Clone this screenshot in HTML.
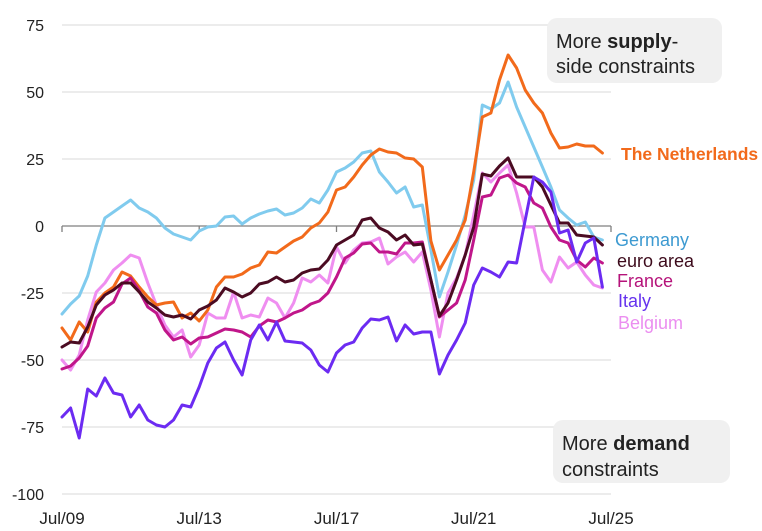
<!DOCTYPE html>
<html>
<head>
<meta charset="utf-8">
<style>
  html, body { margin: 0; padding: 0; background: #ffffff; }
  svg { display: block; }
  text { font-family: "Liberation Sans", "DejaVu Sans", sans-serif; }
</style>
</head>
<body>
<svg width="762" height="531" viewBox="0 0 762 531" xmlns="http://www.w3.org/2000/svg">
  <rect x="0" y="0" width="762" height="531" fill="#ffffff"/>

  <!-- gridlines -->
  <g stroke="#d9d9d9" stroke-width="1">
    <line x1="62" y1="25" x2="611" y2="25"/>
    <line x1="62" y1="92" x2="611" y2="92"/>
    <line x1="62" y1="159" x2="611" y2="159"/>
    <line x1="62" y1="293" x2="611" y2="293"/>
    <line x1="62" y1="360" x2="611" y2="360"/>
    <line x1="62" y1="427" x2="611" y2="427"/>
    <line x1="62" y1="494" x2="611" y2="494"/>
  </g>
  <!-- zero axis with ticks -->
  <g stroke="#7f7f7f" stroke-width="1.3">
    <line x1="62" y1="226" x2="611" y2="226"/>
    <line x1="62" y1="226" x2="62" y2="232"/>
    <line x1="199.2" y1="226" x2="199.2" y2="232"/>
    <line x1="336.5" y1="226" x2="336.5" y2="232"/>
    <line x1="473.7" y1="226" x2="473.7" y2="232"/>
    <line x1="611" y1="226" x2="611" y2="232"/>
  </g>

  <!-- y-axis labels -->
  <g font-size="16" fill="#222222" text-anchor="end">
    <text x="44" y="31">75</text>
    <text x="44" y="98">50</text>
    <text x="44" y="165">25</text>
    <text x="44" y="232">0</text>
    <text x="44" y="299">-25</text>
    <text x="44" y="366">-50</text>
    <text x="44" y="433">-75</text>
    <text x="44" y="500">-100</text>
  </g>
  <!-- x-axis labels -->
  <g font-size="17" fill="#222222" text-anchor="middle">
    <text x="62" y="524">Jul/09</text>
    <text x="199.2" y="524">Jul/13</text>
    <text x="336.5" y="524">Jul/17</text>
    <text x="473.7" y="524">Jul/21</text>
    <text x="611" y="524">Jul/25</text>
  </g>

  <!-- callouts -->
  <rect x="547" y="18" width="175" height="65" rx="10" ry="10" fill="#f0f0f0"/>
  <text x="556" y="48" font-size="20" fill="#222222">More <tspan font-weight="bold">supply</tspan>-</text>
  <text x="556" y="73" font-size="20" fill="#222222">side constraints</text>

  <rect x="553" y="420" width="177" height="63" rx="10" ry="10" fill="#f0f0f0"/>
  <text x="562" y="450" font-size="20" fill="#222222">More <tspan font-weight="bold">demand</tspan></text>
  <text x="562" y="476" font-size="20" fill="#222222">constraints</text>

  <!-- series -->
  <g fill="none" stroke-width="3" stroke-linejoin="round" stroke-linecap="round">
    <!-- Belgium -->
    <polyline stroke="#ef8ef0" points="62,360 70.6,370 79.2,355 87.7,320 96.3,292 104.9,283 113.5,270 122,263 130.6,255 139.2,258 147.8,283 156.4,305 164.9,325 173.5,337 182.1,330 190.7,357 199.2,345 207.8,313 216.4,318 225,318 233.6,292 242.1,318 250.7,315 259.3,317 267.9,298 276.5,303 285,318 293.6,303 302.2,278 310.8,282 319.3,275 327.9,283 336.5,247 345.1,263 353.7,250 362.2,243 370.8,242 379.4,238 388,264 396.5,257 405.1,252 413.7,262 422.3,252 430.9,290 439.4,337 448,293 456.6,278 465.2,255 473.7,215 482.3,173 490.9,182 499.5,173 508.1,165 516.6,193 525.2,227 533.8,227 542.4,270 550.9,282 559.5,257 568.1,268 576.7,262 585.3,275 593.8,285 602.4,288"/>
    <!-- Germany -->
    <polyline stroke="#80cbee" points="62,314 70.6,304 79.2,296 87.7,276 96.3,245 104.9,218 113.5,212 122,206 130.6,200 139.2,208 147.8,212 156.4,218 164.9,228 173.5,234 182.1,237 190.7,240 199.2,231 207.8,227 216.4,226 225,217 233.6,216 242.1,224 250.7,218 259.3,214 267.9,211 276.5,209 285,215 293.6,213 302.2,208 310.8,199 319.3,203 327.9,190 336.5,172 345.1,168 353.7,162 362.2,153 370.8,151 379.4,172 388,182 396.5,193 405.1,187 413.7,207 422.3,205 430.9,250 439.4,297 448,272 456.6,245 465.2,215 473.7,180 482.3,105 490.9,109 499.5,103 508.1,82 516.6,107 525.2,127 533.8,147 542.4,167 550.9,187 559.5,210 568.1,218 576.7,225 585.3,222 593.8,237 602.4,240"/>
    <!-- Netherlands -->
    <polyline stroke="#f26a1b" points="62,328 70.6,340 79.2,322 87.7,332 96.3,302 104.9,293 113.5,287 122,272 130.6,276 139.2,287 147.8,297 156.4,305 164.9,303 173.5,302 182.1,318 190.7,313 199.2,321 207.8,310 216.4,287 225,277 233.6,277 242.1,274 250.7,268 259.3,265 267.9,252 276.5,253 285,247 293.6,241 302.2,237 310.8,228 319.3,223 327.9,212 336.5,190 345.1,187 353.7,177 362.2,165 370.8,155 379.4,149 388,152 396.5,153 405.1,158 413.7,159 422.3,167 430.9,241 439.4,270 448,255 456.6,240 465.2,220 473.7,172 482.3,117 490.9,113 499.5,80 508.1,55 516.6,68 525.2,90 533.8,103 542.4,113 550.9,133 559.5,148 568.1,147 576.7,144 585.3,146 593.8,146 602.4,153"/>
    <!-- France -->
    <polyline stroke="#c0168a" points="62,369 70.6,366 79.2,358 87.7,346 96.3,318 104.9,308 113.5,302 122,284 130.6,278 139.2,291 147.8,307 156.4,313 164.9,330 173.5,340 182.1,337 190.7,344 199.2,338 207.8,337 216.4,333 225,329 233.6,330 242.1,332 250.7,337 259.3,326 267.9,320 276.5,322 285,318 293.6,313 302.2,310 310.8,304 319.3,301 327.9,293 336.5,277 345.1,258 353.7,253 362.2,244 370.8,243 379.4,252 388,252 396.5,254 405.1,243 413.7,243 422.3,242 430.9,280 439.4,317 448,310 456.6,303 465.2,280 473.7,240 482.3,197 490.9,195 499.5,178 508.1,175 516.6,183 525.2,187 533.8,203 542.4,208 550.9,227 559.5,240 568.1,243 576.7,260 585.3,267 593.8,258 602.4,263"/>
    <!-- euro area -->
    <polyline stroke="#4b0b22" points="62,347 70.6,342 79.2,343 87.7,327 96.3,305 104.9,295 113.5,290 122,283 130.6,283 139.2,292 147.8,302 156.4,308 164.9,315 173.5,317 182.1,315 190.7,319 199.2,310 207.8,306 216.4,300 225,288 233.6,292 242.1,297 250.7,293 259.3,284 267.9,282 276.5,277 285,282 293.6,280 302.2,273 310.8,270 319.3,269 327.9,260 336.5,245 345.1,240 353.7,235 362.2,220 370.8,218 379.4,228 388,232 396.5,240 405.1,235 413.7,245 422.3,244 430.9,280 439.4,316 448,303 456.6,280 465.2,255 473.7,227 482.3,174 490.9,176 499.5,166 508.1,158 516.6,177 525.2,177 533.8,177 542.4,187 550.9,205 559.5,223 568.1,223 576.7,235 585.3,236 593.8,237 602.4,245"/>
    <!-- Italy -->
    <polyline stroke="#6c2bf2" points="62,417 70.6,408 79.2,438 87.7,389 96.3,396 104.9,378 113.5,393 122,395 130.6,417 139.2,405 147.8,420 156.4,425 164.9,427 173.5,420 182.1,405 190.7,407 199.2,387 207.8,363 216.4,348 225,342 233.6,360 242.1,375 250.7,340 259.3,325 267.9,340 276.5,322 285,341 293.6,342 302.2,343 310.8,350 319.3,365 327.9,372 336.5,353 345.1,345 353.7,342 362.2,328 370.8,319 379.4,320 388,317 396.5,341 405.1,325 413.7,334 422.3,332 430.9,332 439.4,374 448,355 456.6,340 465.2,323 473.7,285 482.3,268 490.9,272 499.5,277 508.1,262 516.6,263 525.2,220 533.8,177 542.4,182 550.9,192 559.5,233 568.1,230 576.7,262 585.3,243 593.8,238 602.4,287"/>
  </g>

  <!-- series labels -->
  <text x="621" y="160" font-size="17.5" font-weight="bold" fill="#f26a1b">The Netherlands</text>
  <g font-size="18">
    <text x="615" y="246" fill="#3d9ad1">Germany</text>
    <text x="617" y="267" fill="#3d0b1c">euro area</text>
    <text x="617" y="287" fill="#b5137a">France</text>
    <text x="618" y="307" fill="#6633ee">Italy</text>
    <text x="618" y="329" fill="#eb8ef0">Belgium</text>
  </g>
</svg>
</body>
</html>
